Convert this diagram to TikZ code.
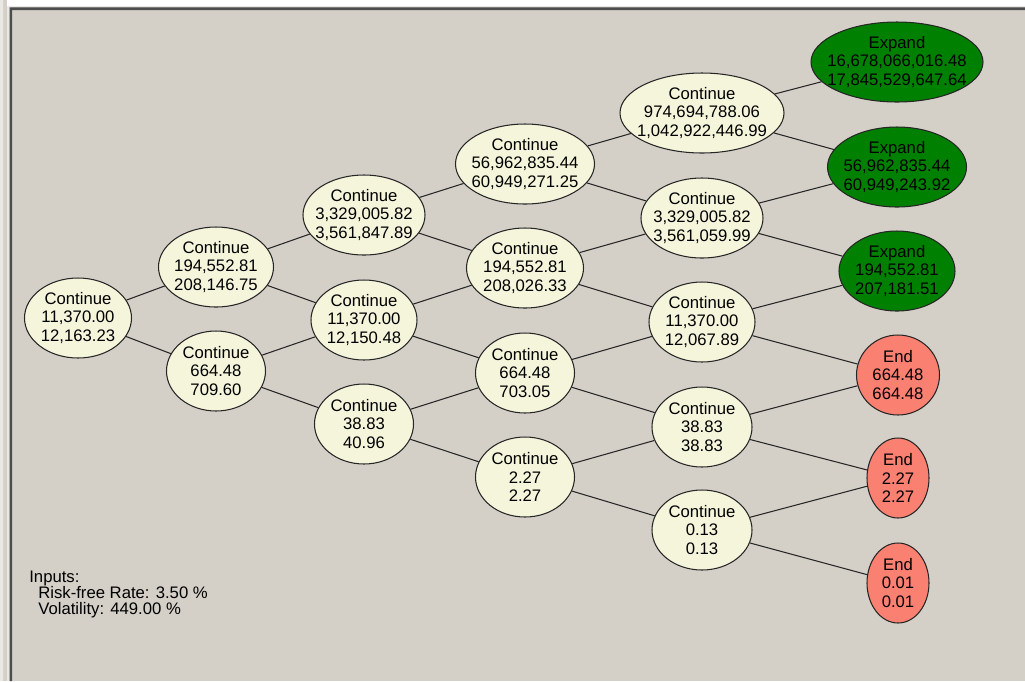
\documentclass[tikz,border=0pt]{standalone}
\usepackage{fontspec}
\setmainfont{Liberation Sans}
\usetikzlibrary{shapes.geometric}
\definecolor{panel}{HTML}{D4D0C8}
\definecolor{contfill}{HTML}{F5F5DC}
\definecolor{expandfill}{HTML}{008000}
\definecolor{endfill}{HTML}{FA8072}

\begin{document}
\begin{tikzpicture}[x=0.02cm,y=-0.02cm,
  every node/.style={font=\fontsize{9.5}{10.5}\selectfont},
  latnode/.style={ellipse,draw=black!85,line width=0.6pt,align=center,
    inner xsep=-20pt,inner ysep=0pt,minimum height=1.6cm,minimum width={#1*0.02cm}},
  contnode/.style={latnode=#1,fill=contfill},
  expandnode/.style={latnode=#1,fill=expandfill},
  endnode/.style={latnode=#1,fill=endfill},
  link/.style={line width=0.6pt,black!85}]
\useasboundingbox (0,0) rectangle (1025,681);
\fill[panel] (0,0) rectangle (1025,681);
\fill[white] (7,0) rectangle (1025,6);
\fill[panel!50!white] (0,0) rectangle (3,681) (7,6) rectangle (9.5,681) (7,6) rectangle (1025,7.3);
\fill[black!70] (9.5,7.3) rectangle (12,681) (9.5,7.3) rectangle (1025,10);

\node[contnode=107] (a1) at (78,318) {Continue\\11,370.00\\12,163.23};

\node[contnode=115] (b1) at (216,267) {Continue\\194,552.81\\208,146.75};
\node[contnode=99] (b2) at (216,371) {Continue\\664.48\\709.60};

\node[contnode=122] (c1) at (364,215) {Continue\\3,329,005.82\\3,561,847.89};
\node[contnode=106] (c2) at (364,320) {Continue\\11,370.00\\12,150.48};
\node[contnode=99] (c3) at (364,424) {Continue\\38.83\\40.96};

\node[contnode=139] (d1) at (525,164) {Continue\\56,962,835.44\\60,949,271.25};
\node[contnode=117] (d2) at (525,268) {Continue\\194,552.81\\208,026.33};
\node[contnode=99] (d3) at (525,373) {Continue\\664.48\\703.05};
\node[contnode=99] (d4) at (525,477) {Continue\\2.27\\2.27};

\node[contnode=164] (e1) at (702,113) {Continue\\974,694,788.06\\1,042,922,446.99};
\node[contnode=122] (e2) at (702,218) {Continue\\3,329,005.82\\3,561,059.99};
\node[contnode=106] (e3) at (702,322) {Continue\\11,370.00\\12,067.89};
\node[contnode=100] (e4) at (702,427) {Continue\\38.83\\38.83};
\node[contnode=100] (e5) at (702,530) {Continue\\0.13\\0.13};

\node[expandnode=172] (f1) at (897,62) {Expand\\16,678,066,016.48\\17,845,529,647.64};
\node[expandnode=139] (f2) at (897,167) {Expand\\56,962,835.44\\60,949,243.92};
\node[expandnode=116] (f3) at (897,271) {Expand\\194,552.81\\207,181.51};
\node[endnode=83] (f4) at (898,375) {End\\664.48\\664.48};
\node[endnode=62] (f5) at (898,478) {End\\2.27\\2.27};
\node[endnode=62] (f6) at (898,583) {End\\0.01\\0.01};

\draw[link] (a1)--(b1) (a1)--(b2);
\draw[link] (b1)--(c1) (b1)--(c2) (b2)--(c2) (b2)--(c3);
\draw[link] (c1)--(d1) (c1)--(d2) (c2)--(d2) (c2)--(d3) (c3)--(d3) (c3)--(d4);
\draw[link] (d1)--(e1) (d1)--(e2) (d2)--(e2) (d2)--(e3) (d3)--(e3) (d3)--(e4) (d4)--(e4) (d4)--(e5);
\draw[link] (e1)--(f1) (e1)--(f2) (e2)--(f2) (e2)--(f3) (e3)--(f3) (e3)--(f4) (e4)--(f4) (e4)--(f5) (e5)--(f5) (e5)--(f6);

\node[anchor=base west,inner sep=0pt] (inp1) at (29,582) {Inputs:};
\node[anchor=base west,inner sep=0pt] (inp2) at (38,598) {Risk-free Rate: 3.50 \%};
\node[anchor=base west,inner sep=0pt] (inp3) at (38,614) {Volatility: 449.00 \%};
\end{tikzpicture}
\end{document}
